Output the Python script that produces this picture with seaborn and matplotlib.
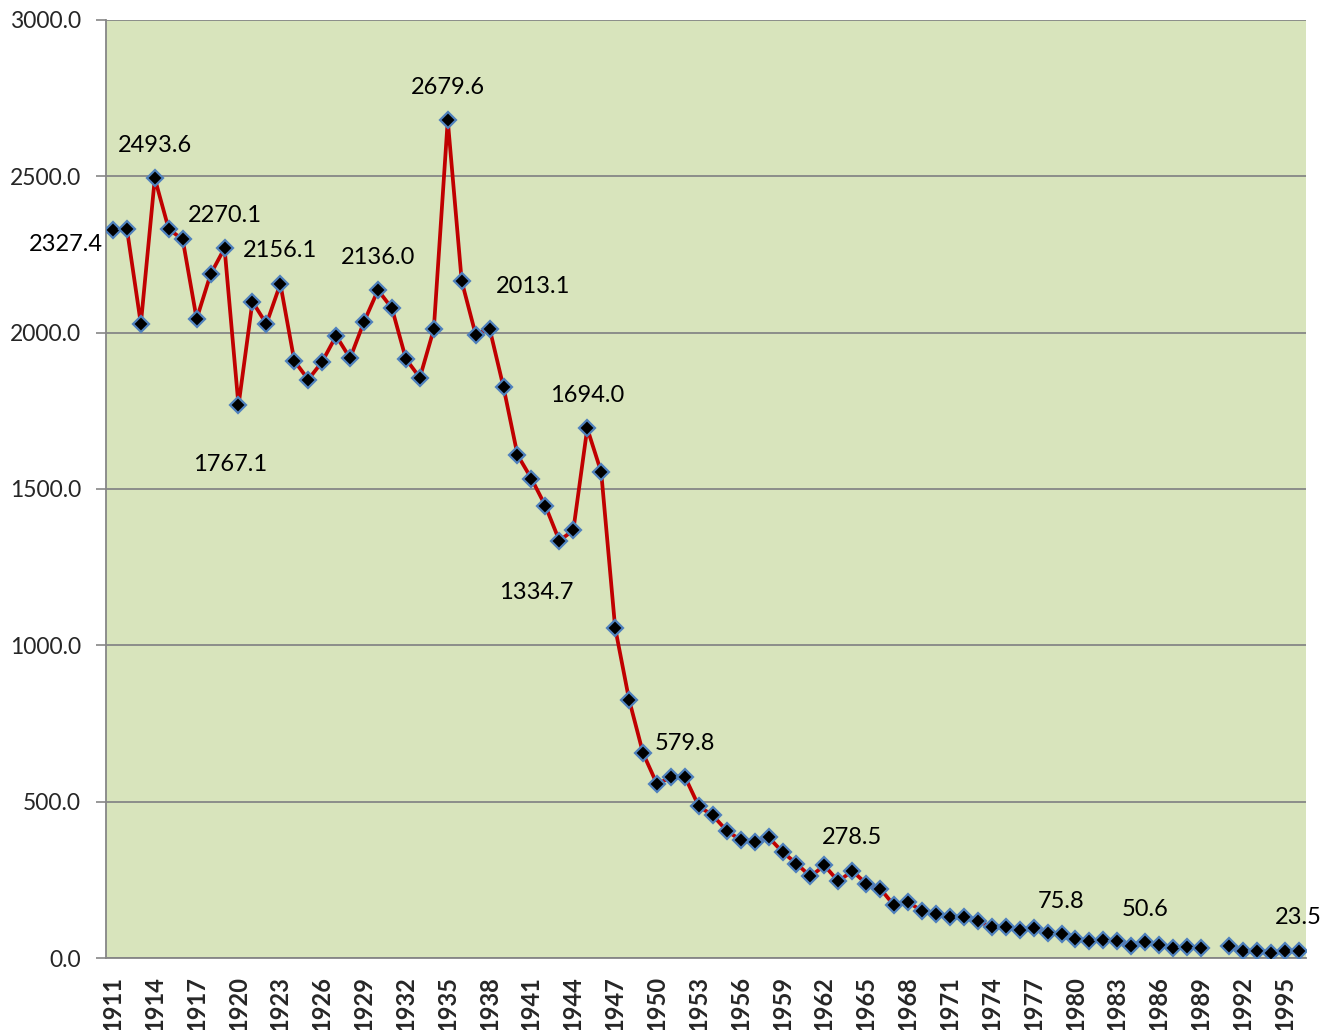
import matplotlib
matplotlib.use("Agg")
import numpy as np
import pandas as pd
import matplotlib.pyplot as plt
import seaborn as sns

# categories (years) and series values; 1990 has no value
years = list(range(1911, 1997))
values = [2327.4, 2332, 2028, 2493.6, 2331, 2298, 2044, 2187, 2270.1, 1767.1,
          2099, 2028, 2156.1, 1910, 1850, 1907, 1990, 1918, 2035, 2136.0,
          2078, 1916, 1856, 2011, 2679.6, 2165, 1994, 2013.1, 1825, 1609,
          1533, 1446, 1334.7, 1368, 1694.0, 1554, 1056, 826, 655, 556,
          578, 579.8, 485, 456, 407, 377, 370, 386, 339, 302,
          261, 296, 245, 278.5, 238, 222, 168, 179, 150, 141,
          130, 130, 117, 100, 100, 90, 95, 80, 75.8, 61,
          53, 59, 55, 39, 50.6, 43, 32, 34, 31, None,
          39, 21, 21, 16, 21, 23.5]
yticks = [0, 500, 1000, 1500, 2000, 2500, 3000]

# years that carry a data label
label_years = [1911, 1914, 1919, 1920, 1923, 1930, 1935, 1938, 1943, 1945,
               1952, 1964, 1979, 1985, 1996]
# label placement (pixel offsets from the point), default is straight above
label_offsets = {1911: (-10, -14, "right"), 1920: (-8, -59, "center"),
                 1938: (43, 42, "center"), 1943: (-23, -52, "center")}

df = pd.DataFrame({"year": years, "value": values})
df["value"] = df["value"].astype(float)
df["pos"] = np.arange(len(df))
df["seg"] = df["value"].isna().cumsum()
line_df = df.dropna()

sns.set_theme(style="white")
plt.rcParams["font.family"] = ["Lato", "DejaVu Sans"]

fig = plt.figure(figsize=(13.33, 10.3), dpi=100)
ax = fig.add_axes([0.0795, 0.0699, 0.9, 0.9107])
ax.set_facecolor("#D8E4BC")

sns.lineplot(data=line_df, x="pos", y="value", units="seg", estimator=None,
             color="#C00000", linewidth=2.7, marker="D", markersize=8.5,
             markerfacecolor="black", markeredgecolor="#4F81BD",
             markeredgewidth=1.6, ax=ax, zorder=3)

ax.set_xlim(-0.5, len(years) - 0.5)
ax.set_ylim(0, 3000)
ax.set_yticks(yticks)
ax.set_yticklabels([f"{v:.1f}" for v in yticks], fontsize=16.5)
ax.yaxis.grid(True, color="#868686", linewidth=1.3)
ax.set_axisbelow(True)

pos_labels = [p for p in df["pos"] if p % 3 == 0]
ax.set_xticks(pos_labels)
ax.set_xticklabels([str(years[p]) for p in pos_labels], rotation=90,
                   fontsize=17, fontweight="bold")
ax.set_xticks(np.arange(len(years) + 1) - 0.5, minor=True)
ax.tick_params(axis="x", which="major", length=0, pad=13)
ax.tick_params(axis="x", which="minor", length=7, width=1.2, color="#868686")
ax.tick_params(axis="y", which="major", length=7, width=1.2, color="#868686",
               direction="out", left=True, pad=11)
ax.set_xlabel("")
ax.set_ylabel("")

for side in ["top", "right"]:
    ax.spines[side].set_visible(False)
for side in ["left", "bottom"]:
    ax.spines[side].set_color("#868686")
    ax.spines[side].set_linewidth(1.3)

for yr in label_years:
    row = df[df["year"] == yr].iloc[0]
    dx, dy, ha = label_offsets.get(yr, (0, 33, "center"))
    ax.annotate(f"{row['value']:.1f}", (row["pos"], row["value"]),
                xytext=(dx, dy), textcoords="offset pixels",
                ha=ha, va="center", fontsize=17, color="black",
                annotation_clip=False, zorder=5)

fig.savefig("out.png", dpi=100)
